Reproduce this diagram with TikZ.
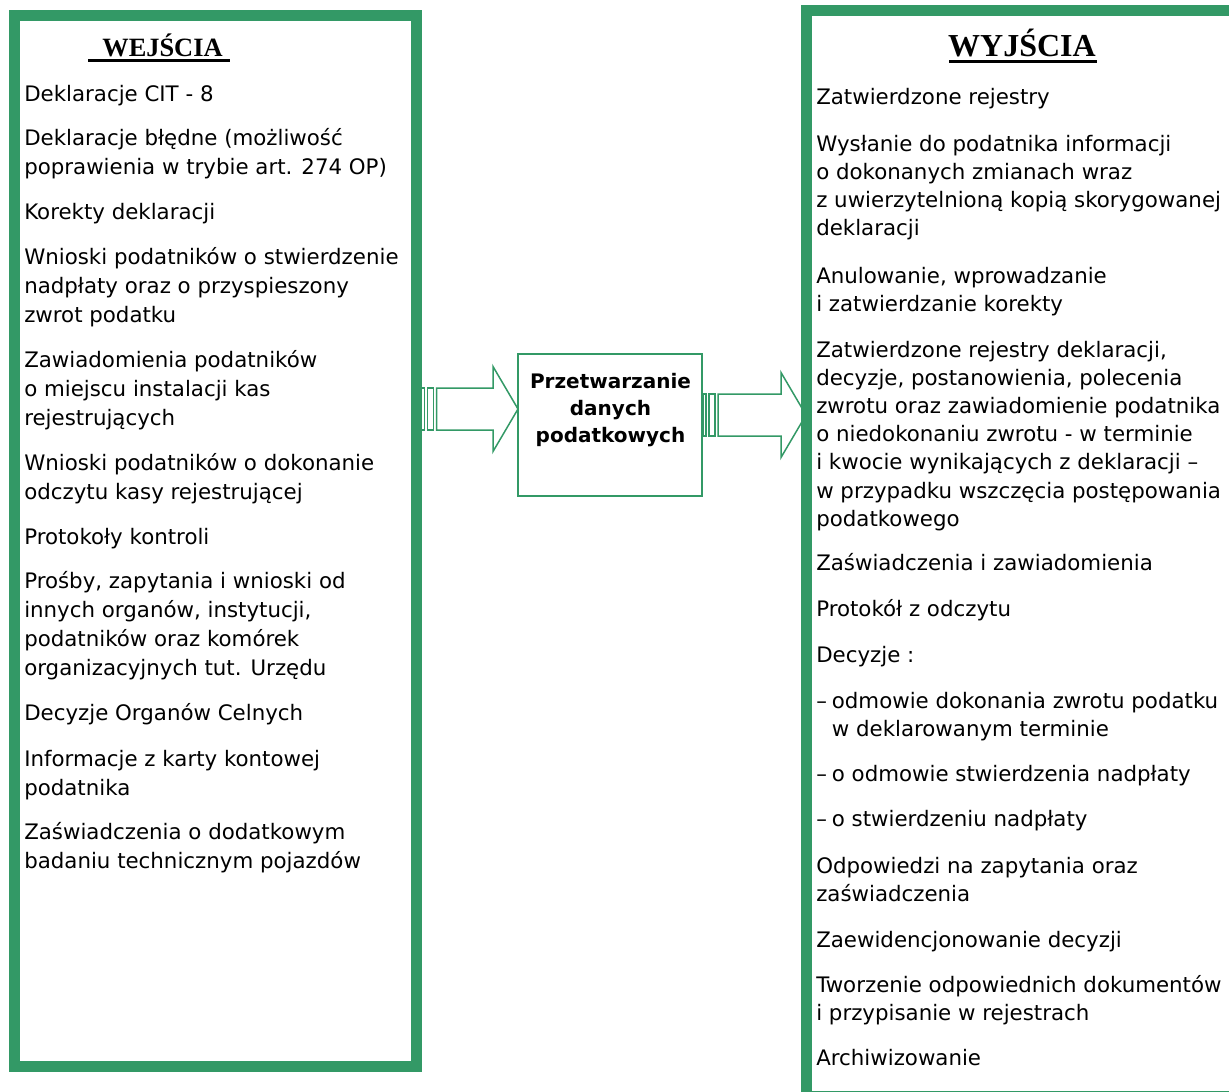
\documentclass[tikz,border=0pt]{standalone}
\usepackage{fontspec}
\setmainfont{DejaVu Sans}
\newfontfamily\headfont{Liberation Serif}
\usetikzlibrary{calc,backgrounds}
\definecolor{boxgreen}{RGB}{51,153,102}
\newcommand\px{0.75pt}
% stacked lines, baseline on the first one
\newcommand\lines[1]{\begin{tabular}[t]{@{}l@{}}#1\end{tabular}}
\newcommand\clines[1]{\begin{tabular}[t]{@{}c@{}}#1\end{tabular}}
% dashed list entry with hanging indent
\newcommand\dashmark{\makebox[11.7pt][l]{–}}
\newcommand\hang{\hspace*{11.7pt}}
% outlined block arrow with two stripes at the tail
\newcommand\stripedarrow[2]{%
  \draw[arrowline] ($(#1)+(0,-21)$) rectangle ($(#1)+(3,21)$);
  \draw[arrowline] ($(#1)+(6,-21)$) rectangle ($(#1)+(12,21)$);
  \draw[arrowline] ($(#1)+(15,-21)$) -- ($(#2)+(-25,-21)$) -- ($(#2)+(-25,-42.5)$)
    -- (#2) -- ($(#2)+(-25,42.5)$) -- ($(#2)+(-25,21)$) -- ($(#1)+(15,21)$) -- cycle;
}
\begin{document}
\begin{tikzpicture}[x=0.75pt,y=-0.75pt,
  frame/.style={draw=boxgreen, line width=11*\px, inner sep=0pt},
  procbox/.style={draw=boxgreen, line width=2*\px, inner sep=0pt,
    minimum width=184*\px, minimum height=142*\px},
  initem/.style={anchor=base west, inner sep=0pt, font=\fontsize{16}{21.75}\selectfont},
  outitem/.style={anchor=base west, inner sep=0pt, font=\fontsize{16}{21.15}\selectfont},
  heading/.style={anchor=base, inner sep=0pt},
  underrule/.style={line width=3.5*\px},
  arrowline/.style={draw=boxgreen, line width=1.5*\px, fill=white, line join=miter},
]
\useasboundingbox (0,0) rectangle (1229,1092);
\clip (0,0) rectangle (1229,1092);

% frames
\node[frame, minimum width=402*\px, minimum height=1051*\px] (inbox) at (215,541) {};
\node[frame, minimum width=433.5*\px, minimum height=1085.5*\px] (outbox) at (1023.25,553.25) {};
\node[procbox] (proc) at (610,425) {};
\node[anchor=base, inner sep=0pt, font=\bfseries\fontsize{15}{20.25}\selectfont]
  (proctext) at (610.5,388) {\clines{Przetwarzanie\\danych\\podatkowych}};

% arrows behind the frames
\begin{scope}[on background layer]
  \coordinate (intail) at ($(inbox.east)+(0,-132)$);
  \coordinate (intip) at ($(proc.west)+(1,-16)$);
  \stripedarrow{intail}{intip}
  \coordinate (outtail) at ($(proc.east)+(0,-10)$);
  \coordinate (outtip) at ($(outbox.west)+(5,-138.25)$);
  \stripedarrow{outtail}{outtip}
\end{scope}

% headings
\node[heading, font=\headfont\bfseries\fontsize{19.8}{24}\selectfont] (intitle) at (162.5,56) {WEJŚCIA};
\draw[underrule] (88,60.7) -- (230,60.7);
\node[heading, font=\headfont\bfseries\fontsize{24}{28}\selectfont] (outtitle) at (1022,56) {WYJŚCIA};
\draw[underrule] (949,61.5) -- (1097,61.5);

% inputs
\node[initem] (i1) at (24,101) {Deklaracje CIT - 8};
\node[initem] (i2) at (24,145) {\lines{Deklaracje błędne (możliwość\\poprawienia w trybie art. 274 OP)}};
\node[initem] (i3) at (24,219) {Korekty deklaracji};
\node[initem] (i4) at (24,264) {\lines{Wnioski podatników o stwierdzenie\\nadpłaty oraz o przyspieszony\\zwrot podatku}};
\node[initem] (i5) at (24,367) {\lines{Zawiadomienia podatników\\o miejscu instalacji kas\\rejestrujących}};
\node[initem] (i6) at (24,470) {\lines{Wnioski podatników o dokonanie\\odczytu kasy rejestrującej}};
\node[initem] (i7) at (24,544) {Protokoły kontroli};
\node[initem] (i8) at (24,588) {\lines{Prośby, zapytania i wnioski od\\innych organów, instytucji,\\podatników oraz komórek\\organizacyjnych tut. Urzędu}};
\node[initem] (i9) at (24,720) {Decyzje Organów Celnych};
\node[initem] (i10) at (24,766) {\lines{Informacje z karty kontowej\\podatnika}};
\node[initem] (i11) at (24,839) {\lines{Zaświadczenia o dodatkowym\\badaniu technicznym pojazdów}};

% outputs
\node[outitem] (o1) at (816,104) {Zatwierdzone rejestry};
\node[outitem] (o2) at (816,151) {\lines{Wysłanie do podatnika informacji\\o dokonanych zmianach wraz\\z uwierzytelnioną kopią skorygowanej\\deklaracji}};
\node[outitem] (o3) at (816,283) {\lines{Anulowanie, wprowadzanie\\i zatwierdzanie korekty}};
\node[outitem] (o4) at (816,357) {\lines{Zatwierdzone rejestry deklaracji,\\decyzje, postanowienia, polecenia\\zwrotu oraz zawiadomienie podatnika\\o niedokonaniu zwrotu - w terminie\\i kwocie wynikających z deklaracji –\\w przypadku wszczęcia postępowania\\podatkowego}};
\node[outitem] (o5) at (816,570.5) {Zaświadczenia i zawiadomienia};
\node[outitem] (o6) at (816,616) {Protokół z odczytu};
\node[outitem] (o7) at (816,662) {Decyzje :};
\node[outitem] (o8) at (816,708) {\lines{\dashmark odmowie dokonania zwrotu podatku\\\hang w deklarowanym terminie}};
\node[outitem] (o9) at (816,781) {\dashmark o odmowie stwierdzenia nadpłaty};
\node[outitem] (o10) at (816,826) {\dashmark o stwierdzeniu nadpłaty};
\node[outitem] (o11) at (816,873.5) {\lines{Odpowiedzi na zapytania oraz\\zaświadczenia}};
\node[outitem] (o12) at (816,947.5) {Zaewidencjonowanie decyzji};
\node[outitem] (o13) at (816,992.5) {\lines{Tworzenie odpowiednich dokumentów\\i przypisanie w rejestrach}};
\node[outitem] (o14) at (816,1065) {Archiwizowanie};
\end{tikzpicture}
\end{document}
